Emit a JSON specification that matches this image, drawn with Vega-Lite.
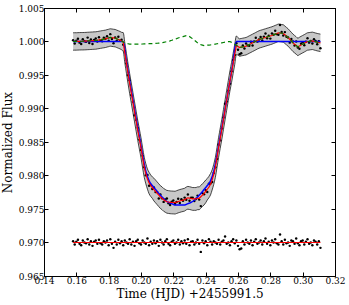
{
"$schema":"https://vega.github.io/schema/vega-lite/v6.json",
"width":291,"height":268,
"autosize":"none",
"padding":{"left":44,"top":8,"right":14,"bottom":29},
"background":"white",
"config":{"view":{"stroke":"black","strokeWidth":1},
"axis":{"labelFont":"DejaVu Serif","labelFontSize":9,"titleFont":"DejaVu Serif","titleFontSize":12,"titleFontWeight":"normal","labelColor":"black","titleColor":"black","tickColor":"black","domainColor":"black","tickSize":-4,"grid":false,"labelPadding":4,"labelFlush":false,"labelOverlap":false}},
"datasets":{
"lc":[
{"t":0.158,"m":1.00000,"g":1.00000,"f":1.00020,"r":0.97020,"e":0.0013},
{"t":0.159,"m":1.00001,"g":1.00001,"f":0.99971,"r":0.96970,"e":0.0013},
{"t":0.160,"m":1.00001,"g":1.00001,"f":1.00011,"r":0.97010,"e":0.0013},
{"t":0.161,"m":1.00002,"g":1.00002,"f":1.00042,"r":0.97040,"e":0.0013},
{"t":0.162,"m":1.00003,"g":1.00003,"f":0.99983,"r":0.96980,"e":0.0013},
{"t":0.163,"m":1.00004,"g":1.00004,"f":0.99964,"r":0.96960,"e":0.0013},
{"t":0.164,"m":1.00004,"g":1.00004,"f":1.00034,"r":0.97030,"e":0.0013},
{"t":0.165,"m":1.00005,"g":1.00005,"f":1.00005,"r":0.97000,"e":0.0013},
{"t":0.166,"m":1.00006,"g":1.00006,"f":0.99996,"r":0.96990,"e":0.0013},
{"t":0.167,"m":1.00008,"g":1.00008,"f":1.00058,"r":0.97050,"e":0.0013},
{"t":0.168,"m":1.00009,"g":1.00009,"f":0.99979,"r":0.96970,"e":0.0013},
{"t":0.169,"m":1.00011,"g":1.00011,"f":1.00031,"r":0.97020,"e":0.0013},
{"t":0.170,"m":1.00012,"g":1.00012,"f":0.99962,"r":0.96950,"e":0.0013},
{"t":0.171,"m":1.00014,"g":1.00014,"f":1.00024,"r":0.97010,"e":0.0013},
{"t":0.172,"m":1.00015,"g":1.00015,"f":1.00045,"r":0.97030,"e":0.0013},
{"t":0.173,"m":1.00019,"g":1.00019,"f":0.99999,"r":0.96980,"e":0.0013},
{"t":0.174,"m":1.00023,"g":1.00023,"f":1.00063,"r":0.97040,"e":0.0013},
{"t":0.175,"m":1.00028,"g":1.00028,"f":1.00018,"r":0.96990,"e":0.0013},
{"t":0.176,"m":1.00032,"g":1.00032,"f":1.00002,"r":0.96970,"e":0.0013},
{"t":0.177,"m":1.00036,"g":1.00036,"f":1.00056,"r":0.97020,"e":0.0013},
{"t":0.178,"m":1.00040,"g":1.00040,"f":1.00040,"r":0.97000,"e":0.0013},
{"t":0.179,"m":1.00047,"g":1.00047,"f":1.00077,"r":0.97030,"e":0.0013},
{"t":0.180,"m":1.00053,"g":1.00053,"f":1.00013,"r":0.96960,"e":0.0013},
{"t":0.181,"m":1.00060,"g":1.00060,"f":1.00110,"r":0.97050,"e":0.0013},
{"t":0.182,"m":1.00057,"g":1.00057,"f":1.00037,"r":0.96980,"e":0.0013},
{"t":0.183,"m":1.00053,"g":1.00053,"f":0.99973,"r":0.96920,"e":0.0013},
{"t":0.184,"m":1.00050,"g":1.00050,"f":1.00060,"r":0.97010,"e":0.0013},
{"t":0.185,"m":1.00040,"g":1.00040,"f":1.00010,"r":0.96970,"e":0.0013},
{"t":0.186,"m":1.00030,"g":1.00030,"f":1.00070,"r":0.97040,"e":0.0013},
{"t":0.187,"m":1.00020,"g":1.00020,"f":1.00010,"r":0.96990,"e":0.0013},
{"t":0.188,"m":1.00007,"g":1.00007,"f":1.00027,"r":0.97020,"e":0.0013},
{"t":0.189,"m":0.99993,"g":0.99993,"f":0.99953,"r":0.96960,"e":0.0014},
{"t":0.190,"m":0.99830,"g":0.99980,"f":0.99860,"r":0.97030,"e":0.0015},
{"t":0.191,"m":0.99673,"g":0.99973,"f":0.99673,"r":0.97000,"e":0.0015},
{"t":0.192,"m":0.99517,"g":0.99967,"f":0.99497,"r":0.96980,"e":0.0015},
{"t":0.193,"m":0.99370,"g":0.99960,"f":0.99420,"r":0.97050,"e":0.0015},
{"t":0.194,"m":0.99230,"g":0.99960,"f":0.99200,"r":0.96970,"e":0.0015},
{"t":0.195,"m":0.99090,"g":0.99960,"f":0.99100,"r":0.97010,"e":0.0015},
{"t":0.196,"m":0.98950,"g":0.99960,"f":0.98900,"r":0.96950,"e":0.0015},
{"t":0.197,"m":0.98810,"g":0.99960,"f":0.98830,"r":0.97020,"e":0.0015},
{"t":0.198,"m":0.98671,"g":0.99961,"f":0.98711,"r":0.97040,"e":0.0015},
{"t":0.199,"m":0.98542,"g":0.99962,"f":0.98532,"r":0.96990,"e":0.0015},
{"t":0.200,"m":0.98412,"g":0.99962,"f":0.98382,"r":0.96970,"e":0.0015},
{"t":0.201,"m":0.98263,"g":0.99963,"f":0.98293,"r":0.97030,"e":0.0015},
{"t":0.202,"m":0.98124,"g":0.99964,"f":0.98124,"r":0.97000,"e":0.0015},
{"t":0.203,"m":0.98025,"g":0.99965,"f":0.98005,"r":0.96980,"e":0.0015},
{"t":0.204,"m":0.97946,"g":0.99966,"f":0.98006,"r":0.97060,"e":0.0015},
{"t":0.205,"m":0.97887,"g":0.99967,"f":0.97847,"r":0.96960,"e":0.0016},
{"t":0.206,"m":0.97848,"g":0.99968,"f":0.97858,"r":0.97010,"e":0.0016},
{"t":0.207,"m":0.97819,"g":0.99969,"f":0.97799,"r":0.96980,"e":0.0016},
{"t":0.208,"m":0.97790,"g":0.99970,"f":0.97820,"r":0.97030,"e":0.0017},
{"t":0.209,"m":0.97762,"g":0.99972,"f":0.97752,"r":0.96990,"e":0.0017},
{"t":0.210,"m":0.97734,"g":0.99974,"f":0.97754,"r":0.97020,"e":0.0017},
{"t":0.211,"m":0.97706,"g":0.99976,"f":0.97656,"r":0.96950,"e":0.0017},
{"t":0.212,"m":0.97678,"g":0.99978,"f":0.97718,"r":0.97040,"e":0.0017},
{"t":0.213,"m":0.97660,"g":0.99980,"f":0.97660,"r":0.97000,"e":0.0017},
{"t":0.214,"m":0.97636,"g":0.99986,"f":0.97606,"r":0.96970,"e":0.0017},
{"t":0.215,"m":0.97622,"g":0.99992,"f":0.97642,"r":0.97020,"e":0.0017},
{"t":0.216,"m":0.97608,"g":0.99998,"f":0.97658,"r":0.97050,"e":0.0017},
{"t":0.217,"m":0.97604,"g":1.00004,"f":0.97584,"r":0.96980,"e":0.0017},
{"t":0.218,"m":0.97600,"g":1.00010,"f":0.97560,"r":0.96960,"e":0.0017},
{"t":0.219,"m":0.97598,"g":1.00018,"f":0.97608,"r":0.97010,"e":0.0017},
{"t":0.220,"m":0.97597,"g":1.00027,"f":0.97627,"r":0.97030,"e":0.0017},
{"t":0.221,"m":0.97595,"g":1.00035,"f":0.97575,"r":0.96980,"e":0.0017},
{"t":0.222,"m":0.97603,"g":1.00043,"f":0.97603,"r":0.97000,"e":0.0017},
{"t":0.223,"m":0.97612,"g":1.00052,"f":0.97652,"r":0.97040,"e":0.0017},
{"t":0.224,"m":0.97620,"g":1.00060,"f":0.97590,"r":0.96970,"e":0.0017},
{"t":0.225,"m":0.97627,"g":1.00067,"f":0.97647,"r":0.97020,"e":0.0017},
{"t":0.226,"m":0.97633,"g":1.00073,"f":0.97623,"r":0.96990,"e":0.0017},
{"t":0.227,"m":0.97640,"g":1.00080,"f":0.97670,"r":0.97030,"e":0.0017},
{"t":0.228,"m":0.97657,"g":1.00087,"f":0.97637,"r":0.96980,"e":0.0017},
{"t":0.229,"m":0.97667,"g":1.00087,"f":0.97717,"r":0.97050,"e":0.0017},
{"t":0.230,"m":0.97663,"g":1.00073,"f":0.97623,"r":0.96960,"e":0.0017},
{"t":0.231,"m":0.97657,"g":1.00057,"f":0.97667,"r":0.97010,"e":0.0017},
{"t":0.232,"m":0.97650,"g":1.00040,"f":0.97670,"r":0.97020,"e":0.0017},
{"t":0.233,"m":0.97650,"g":1.00020,"f":0.97620,"r":0.96970,"e":0.0017},
{"t":0.234,"m":0.97650,"g":1.00000,"f":0.97650,"r":0.97000,"e":0.0017},
{"t":0.235,"m":0.97660,"g":0.99980,"f":0.97700,"r":0.97040,"e":0.0017},
{"t":0.236,"m":0.97660,"g":0.99960,"f":0.97640,"r":0.96980,"e":0.0017},
{"t":0.237,"m":0.97683,"g":0.99953,"f":0.97543,"r":0.96860,"e":0.0017},
{"t":0.238,"m":0.97707,"g":0.99947,"f":0.97737,"r":0.97030,"e":0.0017},
{"t":0.239,"m":0.97730,"g":0.99940,"f":0.97720,"r":0.96990,"e":0.0017},
{"t":0.240,"m":0.97762,"g":0.99942,"f":0.97782,"r":0.97020,"e":0.0017},
{"t":0.241,"m":0.97795,"g":0.99945,"f":0.97755,"r":0.96960,"e":0.0016},
{"t":0.242,"m":0.97827,"g":0.99947,"f":0.97877,"r":0.97050,"e":0.0016},
{"t":0.243,"m":0.97870,"g":0.99950,"f":0.97880,"r":0.97010,"e":0.0016},
{"t":0.244,"m":0.97934,"g":0.99954,"f":0.97904,"r":0.96970,"e":0.0015},
{"t":0.245,"m":0.98018,"g":0.99958,"f":0.98038,"r":0.97020,"e":0.0015},
{"t":0.246,"m":0.98122,"g":0.99962,"f":0.98122,"r":0.97000,"e":0.0015},
{"t":0.247,"m":0.98266,"g":0.99966,"f":0.98246,"r":0.96980,"e":0.0015},
{"t":0.248,"m":0.98420,"g":0.99970,"f":0.98460,"r":0.97040,"e":0.0015},
{"t":0.249,"m":0.98555,"g":0.99975,"f":0.98525,"r":0.96970,"e":0.0015},
{"t":0.250,"m":0.98690,"g":0.99980,"f":0.98700,"r":0.97010,"e":0.0015},
{"t":0.251,"m":0.98835,"g":0.99985,"f":0.98865,"r":0.97030,"e":0.0015},
{"t":0.252,"m":0.98980,"g":0.99990,"f":0.99070,"r":0.97090,"e":0.0015},
{"t":0.253,"m":0.99123,"g":0.99993,"f":0.99103,"r":0.96980,"e":0.0015},
{"t":0.254,"m":0.99267,"g":0.99997,"f":0.99267,"r":0.97000,"e":0.0015},
{"t":0.255,"m":0.99410,"g":1.00000,"f":0.99370,"r":0.96960,"e":0.0015},
{"t":0.256,"m":0.99537,"g":0.99987,"f":0.99557,"r":0.97020,"e":0.0015},
{"t":0.257,"m":0.99673,"g":0.99973,"f":0.99723,"r":0.97050,"e":0.0015},
{"t":0.258,"m":0.99810,"g":0.99960,"f":0.99800,"r":0.96990,"e":0.0015},
{"t":0.259,"m":0.99943,"g":0.99943,"f":0.99973,"r":0.97030,"e":0.0014},
{"t":0.260,"m":0.99927,"g":0.99927,"f":0.99877,"r":0.96950,"e":0.0013},
{"t":0.261,"m":0.99910,"g":0.99910,"f":0.99810,"r":0.96900,"e":0.0013},
{"t":0.262,"m":0.99915,"g":0.99915,"f":0.99825,"r":0.96910,"e":0.0013},
{"t":0.263,"m":0.99920,"g":0.99920,"f":0.99940,"r":0.97020,"e":0.0013},
{"t":0.264,"m":0.99925,"g":0.99925,"f":0.99895,"r":0.96970,"e":0.0013},
{"t":0.265,"m":0.99930,"g":0.99930,"f":0.99970,"r":0.97040,"e":0.0013},
{"t":0.266,"m":0.99942,"g":0.99942,"f":0.99942,"r":0.97000,"e":0.0013},
{"t":0.267,"m":0.99955,"g":0.99955,"f":0.99935,"r":0.96980,"e":0.0013},
{"t":0.268,"m":0.99967,"g":0.99967,"f":0.99997,"r":0.97030,"e":0.0013},
{"t":0.269,"m":0.99980,"g":0.99980,"f":0.99940,"r":0.96960,"e":0.0013},
{"t":0.270,"m":0.99992,"g":0.99992,"f":1.00002,"r":0.97010,"e":0.0013},
{"t":0.271,"m":1.00005,"g":1.00005,"f":1.00055,"r":0.97050,"e":0.0013},
{"t":0.272,"m":1.00018,"g":1.00018,"f":0.99998,"r":0.96980,"e":0.0013},
{"t":0.273,"m":1.00030,"g":1.00030,"f":1.00030,"r":0.97000,"e":0.0013},
{"t":0.274,"m":1.00038,"g":1.00038,"f":1.00068,"r":0.97030,"e":0.0013},
{"t":0.275,"m":1.00045,"g":1.00045,"f":1.00015,"r":0.96970,"e":0.0013},
{"t":0.276,"m":1.00053,"g":1.00053,"f":1.00073,"r":0.97020,"e":0.0013},
{"t":0.277,"m":1.00060,"g":1.00060,"f":1.00120,"r":0.97060,"e":0.0013},
{"t":0.278,"m":1.00068,"g":1.00068,"f":1.00048,"r":0.96980,"e":0.0013},
{"t":0.279,"m":1.00075,"g":1.00075,"f":1.00085,"r":0.97010,"e":0.0013},
{"t":0.280,"m":1.00083,"g":1.00083,"f":1.00043,"r":0.96960,"e":0.0013},
{"t":0.281,"m":1.00090,"g":1.00090,"f":1.00120,"r":0.97030,"e":0.0013},
{"t":0.282,"m":1.00100,"g":1.00100,"f":1.00100,"r":0.97000,"e":0.0013},
{"t":0.283,"m":1.00110,"g":1.00110,"f":1.00160,"r":0.97050,"e":0.0013},
{"t":0.284,"m":1.00120,"g":1.00120,"f":1.00110,"r":0.96990,"e":0.0013},
{"t":0.285,"m":1.00130,"g":1.00130,"f":1.00100,"r":0.96970,"e":0.0013},
{"t":0.286,"m":1.00127,"g":1.00127,"f":1.00247,"r":0.97120,"e":0.0013},
{"t":0.287,"m":1.00123,"g":1.00123,"f":1.00143,"r":0.97020,"e":0.0013},
{"t":0.288,"m":1.00120,"g":1.00120,"f":1.00090,"r":0.96970,"e":0.0013},
{"t":0.289,"m":1.00100,"g":1.00100,"f":1.00140,"r":0.97040,"e":0.0013},
{"t":0.290,"m":1.00080,"g":1.00080,"f":1.00070,"r":0.96990,"e":0.0013},
{"t":0.291,"m":1.00060,"g":1.00060,"f":1.00060,"r":0.97000,"e":0.0013},
{"t":0.292,"m":1.00033,"g":1.00033,"f":0.99983,"r":0.96950,"e":0.0013},
{"t":0.293,"m":1.00007,"g":1.00007,"f":1.00037,"r":0.97030,"e":0.0013},
{"t":0.294,"m":0.99980,"g":0.99980,"f":1.00000,"r":0.97020,"e":0.0013},
{"t":0.295,"m":0.99960,"g":0.99960,"f":0.99940,"r":0.96980,"e":0.0013},
{"t":0.296,"m":0.99940,"g":0.99940,"f":1.00000,"r":0.97060,"e":0.0013},
{"t":0.297,"m":0.99920,"g":0.99920,"f":0.99910,"r":0.96990,"e":0.0013},
{"t":0.298,"m":0.99933,"g":0.99933,"f":0.99893,"r":0.96960,"e":0.0013},
{"t":0.299,"m":0.99947,"g":0.99947,"f":0.99967,"r":0.97020,"e":0.0013},
{"t":0.300,"m":0.99960,"g":0.99960,"f":0.99990,"r":0.97030,"e":0.0013},
{"t":0.301,"m":0.99973,"g":0.99973,"f":0.99943,"r":0.96970,"e":0.0013},
{"t":0.302,"m":0.99987,"g":0.99987,"f":0.99997,"r":0.97010,"e":0.0013},
{"t":0.303,"m":1.00000,"g":1.00000,"f":1.00050,"r":0.97050,"e":0.0013},
{"t":0.304,"m":1.00003,"g":1.00003,"f":0.99983,"r":0.96980,"e":0.0013},
{"t":0.305,"m":1.00007,"g":1.00007,"f":1.00007,"r":0.97000,"e":0.0013},
{"t":0.306,"m":1.00010,"g":1.00010,"f":0.99970,"r":0.96960,"e":0.0013},
{"t":0.307,"m":1.00003,"g":1.00003,"f":1.00033,"r":0.97030,"e":0.0013},
{"t":0.308,"m":0.99997,"g":0.99997,"f":1.00007,"r":0.97010,"e":0.0013},
{"t":0.309,"m":0.99990,"g":0.99990,"f":0.99960,"r":0.96970,"e":0.0013},
{"t":0.310,"m":0.99985,"g":0.99985,"f":1.00005,"r":0.97020,"e":0.0013},
{"t":0.311,"m":0.99980,"g":0.99980,"f":0.99900,"r":0.96920,"e":0.0013}
],
"tr":[
{"t":0.158,"T":1.0},{"t":0.189,"T":1.0},{"t":0.191,"T":0.9970},{"t":0.193,"T":0.9941},{"t":0.195,"T":0.9913},{"t":0.197,"T":0.9885},{"t":0.199,"T":0.9858},{"t":0.201,"T":0.9830},{"t":0.203,"T":0.9806},{"t":0.205,"T":0.9792},{"t":0.207,"T":0.9785},{"t":0.209,"T":0.9779},{"t":0.211,"T":0.9773},{"t":0.213,"T":0.9768},{"t":0.215,"T":0.9763},{"t":0.217,"T":0.9760},{"t":0.219,"T":0.9758},{"t":0.221,"T":0.9756},{"t":0.224,"T":0.9756},{"t":0.227,"T":0.9756},{"t":0.229,"T":0.9758},{"t":0.231,"T":0.9760},{"t":0.233,"T":0.9763},{"t":0.235,"T":0.9768},{"t":0.237,"T":0.9773},{"t":0.239,"T":0.9779},{"t":0.241,"T":0.9785},{"t":0.243,"T":0.9792},{"t":0.245,"T":0.9806},{"t":0.247,"T":0.9830},{"t":0.249,"T":0.9858},{"t":0.251,"T":0.9885},{"t":0.253,"T":0.9913},{"t":0.255,"T":0.9941},{"t":0.257,"T":0.9970},{"t":0.259,"T":1.0},{"t":0.311,"T":1.0}
]},
"resolve":{"axis":{"x":"independent","y":"independent"}},
"layer":[
{"data":{"name":"lc"},
 "mark":{"type":"errorband","color":"#c8c8c8","opacity":1,"interpolate":"monotone","borders":{"color":"black","strokeWidth":0.7}},
 "encoding":{
  "x":{"field":"t","type":"quantitative","scale":{"domain":[0.14,0.32],"nice":false,"zero":false},
       "axis":{"orient":"bottom","title":"Time (HJD) +2455991.5","values":[0.14,0.16,0.18,0.2,0.22,0.24,0.26,0.28,0.3,0.32],"format":".2f","titlePadding":3}},
  "y":{"field":"m","type":"quantitative","scale":{"domain":[0.965,1.005],"nice":false,"zero":false},
       "axis":{"orient":"left","title":"Normalized Flux","values":[0.965,0.97,0.975,0.98,0.985,0.99,0.995,1.0,1.005],"format":".3f","titlePadding":4}},
  "yError":{"field":"e"}}},
{"data":{"name":"lc"},"mark":{"type":"point","filled":true,"color":"black","size":6,"opacity":1},
 "encoding":{"x":{"field":"t","type":"quantitative","axis":null},"y":{"field":"f","type":"quantitative","axis":null}}},
{"data":{"name":"lc"},"mark":{"type":"point","filled":true,"color":"black","size":6,"opacity":1},
 "encoding":{"x":{"field":"t","type":"quantitative","axis":null},"y":{"field":"r","type":"quantitative","axis":null}}},
{"data":{"name":"tr"},"mark":{"type":"line","color":"#0000ff","strokeWidth":1.5,"interpolate":"monotone"},
 "encoding":{"x":{"field":"t","type":"quantitative","axis":null},"y":{"field":"T","type":"quantitative","axis":null}}},
{"data":{"name":"lc"},"mark":{"type":"line","color":"#ff0000","strokeWidth":1.2},
 "encoding":{"x":{"field":"t","type":"quantitative","axis":{"orient":"top","labels":false,"title":null,"values":[0.14,0.16,0.18,0.2,0.22,0.24,0.26,0.28,0.3,0.32]}},
  "y":{"field":"m","type":"quantitative","axis":{"orient":"right","labels":false,"title":null,"values":[0.965,0.97,0.975,0.98,0.985,0.99,0.995,1.0,1.005]}}}},
{"data":{"name":"lc"},"mark":{"type":"line","color":"#ff0000","strokeWidth":1.2},
 "encoding":{"x":{"field":"t","type":"quantitative","axis":null},"y":{"datum":0.97,"type":"quantitative","axis":null}}},
{"data":{"name":"lc"},"mark":{"type":"line","color":"#008000","strokeWidth":1.2,"strokeDash":[4,3]},
 "encoding":{"x":{"field":"t","type":"quantitative","axis":null},"y":{"field":"g","type":"quantitative","axis":null}}}
]
}
